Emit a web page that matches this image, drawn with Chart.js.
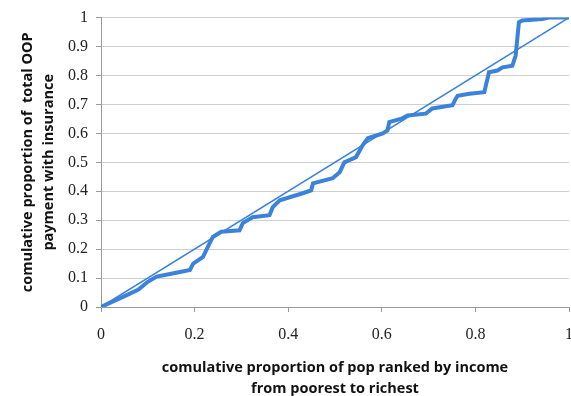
<!DOCTYPE html>
<html>
<head>
<meta charset="utf-8">
<script src="https://cdn.jsdelivr.net/npm/chart.js@4/dist/chart.umd.min.js"></script>
<style>
  html, body { margin: 0; padding: 0; background: #fff; overflow: hidden; }
  #wrap { width: 586px; height: 396px; }
</style>
</head>
<body>
<div id="wrap"><canvas id="chart1"></canvas></div>
<script>
// concentration curve
const popShare = [0, 0.02, 0.055, 0.08, 0.10, 0.119, 0.15, 0.19, 0.197, 0.218, 0.228, 0.239, 0.257, 0.296, 0.303, 0.324, 0.36, 0.367, 0.382, 0.431, 0.449, 0.453, 0.495, 0.51, 0.52, 0.545, 0.559, 0.57, 0.602, 0.612, 0.616, 0.644, 0.655, 0.694, 0.708, 0.751, 0.758, 0.762, 0.787, 0.819, 0.829, 0.847, 0.858, 0.879, 0.886, 0.893, 0.90, 0.943, 0.957, 1.0];
const oopShare = [0, 0.015, 0.041, 0.06, 0.087, 0.105, 0.115, 0.128, 0.15, 0.173, 0.207, 0.242, 0.26, 0.265, 0.29, 0.31, 0.317, 0.345, 0.369, 0.393, 0.403, 0.427, 0.445, 0.466, 0.50, 0.518, 0.559, 0.583, 0.60, 0.61, 0.639, 0.652, 0.662, 0.668, 0.686, 0.697, 0.72, 0.73, 0.737, 0.742, 0.811, 0.817, 0.828, 0.834, 0.869, 0.984, 0.99, 0.995, 1.0, 1.0];
const equalityX = [0, 1];
const equalityY = [0, 1];

const blue = '#3a82da';
const axisFont = { family: "'Liberation Serif', 'DejaVu Serif', serif", size: 16 };
const titleFont = { family: "'Open Sans', 'Liberation Sans', sans-serif", size: 14.5, weight: 'bold', lineHeight: 1.45 };

function toPoints(xs, ys) {
  return xs.map((x, i) => ({ x: x, y: ys[i] }));
}

// excel style labels: 0, 0.1 ... 1
function fmt(v) {
  return String(Math.round(v * 10) / 10);
}

new Chart(document.getElementById('chart1'), {
  type: 'scatter',
  data: {
    datasets: [
      {
        label: 'curve',
        data: toPoints(popShare, oopShare),
        showLine: true,
        borderColor: blue,
        borderWidth: 4,
        pointRadius: 0,
        tension: 0
      },
      {
        label: 'equality',
        data: toPoints(equalityX, equalityY),
        showLine: true,
        borderColor: blue,
        borderWidth: 1.5,
        pointRadius: 0
      }
    ]
  },
  options: {
    responsive: true,
    maintainAspectRatio: false,
    animation: false,
    layout: { padding: { top: 17, right: 0, bottom: 0, left: 0 } },
    plugins: { legend: { display: false }, tooltip: { enabled: false } },
    scales: {
      x: {
        type: 'linear',
        min: 0,
        max: 1,
        ticks: { stepSize: 0.2, color: '#222', font: axisFont, padding: 13, callback: fmt },
        grid: { drawOnChartArea: false, color: '#999', tickLength: 5 },
        border: { color: '#999', width: 1 },
        afterFit: (scale) => { scale.height = 89; },
        title: {
          display: true,
          text: ['comulative proportion of pop ranked by income', 'from poorest to richest'],
          color: '#111',
          font: titleFont,
          padding: { top: 12, bottom: -3 }
        }
      },
      y: {
        min: 0,
        max: 1,
        ticks: { stepSize: 0.1, color: '#222', font: axisFont, padding: 8, callback: fmt },
        grid: { color: '#cfcfcf', tickColor: '#999', tickLength: 5 },
        border: { color: '#999', width: 1 },
        afterFit: (scale) => { scale.width = 101; },
        title: {
          display: true,
          text: ['comulative proportion of  total OOP', 'payment with insurance'],
          color: '#111',
          font: titleFont,
          padding: { top: 17, bottom: 8 }
        }
      }
    }
  }
});
</script>
</body>
</html>
